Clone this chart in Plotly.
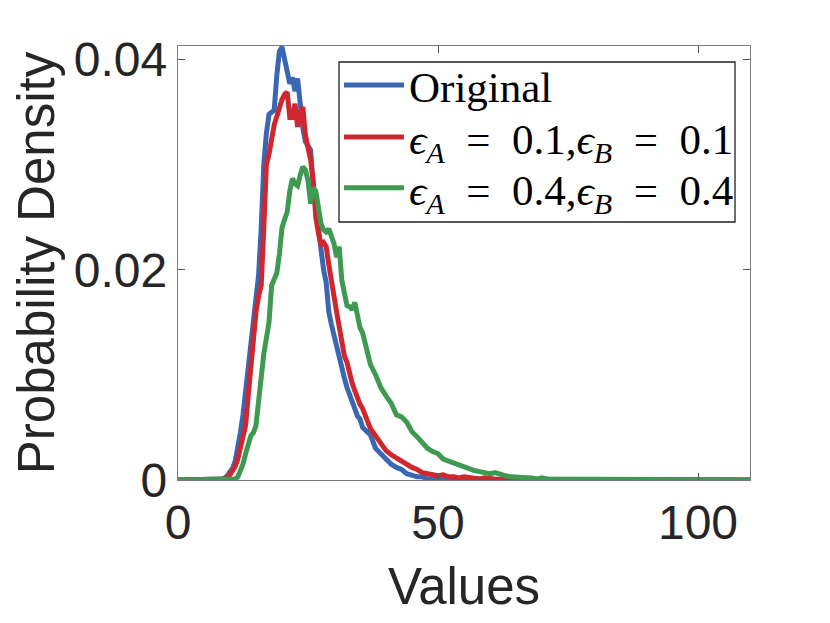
import plotly.graph_objects as go

# x positions of the density estimate (values)
x_vals = [0] + [8 + 0.5 * i for i in range(57)] + list(range(37, 81)) + [110]

# Original
blue = [0,
    0, 0.0001, 0.0002, 0.0004, 0.0008, 0.0011, 0.0018, 0.0030, 0.0045, 0.0062,
    0.0085, 0.0110, 0.0135, 0.0150, 0.0170, 0.0195, 0.0240, 0.0300, 0.0330, 0.0348,
    0.0350, 0.0352, 0.0385, 0.0408, 0.0412, 0.0399, 0.0385, 0.0377, 0.0383, 0.0370,
    0.0382, 0.0358, 0.0335, 0.0322, 0.0318, 0.0314, 0.0279, 0.0258, 0.0238, 0.0218,
    0.0200, 0.0188, 0.0160, 0.0148, 0.0137, 0.0127, 0.0115, 0.0104, 0.0097, 0.0088,
    0.0080, 0.0073, 0.0068, 0.0061, 0.0058, 0.0050, 0.0048,
    0.0043, 0.0030, 0.0025, 0.0021, 0.0015, 0.0012, 0.0010, 0.0006, 0.0004, 0.0003,
    0.0003, 0.0001, 0.0001, 0.0001, 0.0000, 0.0001, 0.0000, 0.0000, 0.0000, 0.0000,
    0.0000, 0.0000, 0.0000, 0.0000, 0.0000, 0.0000, 0.0000, 0.0000, 0.0000, 0.0000,
    0.0000, 0.0000, 0.0000, 0.0000, 0.0000, 0.0000, 0.0000, 0.0000, 0.0000, 0.0000,
    0.0000, 0.0000, 0.0000, 0.0000,
    0]

# eps_A = 0.1, eps_B = 0.1
red = [0,
    0, 0, 0.0001, 0.0003, 0.0005, 0.0009, 0.0013, 0.0020, 0.0030, 0.0042,
    0.0052, 0.0080, 0.0110, 0.0136, 0.0160, 0.0175, 0.0185, 0.0240, 0.0300, 0.0310,
    0.0325, 0.0338, 0.0346, 0.0356, 0.0362, 0.0367, 0.0369, 0.0345, 0.0345, 0.0358,
    0.0336, 0.0350, 0.0355, 0.0328, 0.0315, 0.0305, 0.0285, 0.0250, 0.0235, 0.0224,
    0.0226, 0.0222, 0.0205, 0.0192, 0.0176, 0.0160, 0.0146, 0.0132, 0.0118, 0.0112,
    0.0100, 0.0092, 0.0085, 0.0078, 0.0072, 0.0068, 0.0062,
    0.0049, 0.0042, 0.0034, 0.0028, 0.0024, 0.0021, 0.0017, 0.0014, 0.0012, 0.0010,
    0.0007, 0.0006, 0.0005, 0.0004, 0.0005, 0.0003, 0.0003, 0.0002, 0.0003, 0.0002,
    0.0002, 0.0001, 0.0002, 0.0001, 0.0001, 0.0000, 0.0000, 0.0001, 0.0000, 0.0000,
    0.0000, 0.0000, 0.0000, 0.0000, 0.0000, 0.0000, 0.0000, 0.0000, 0.0000, 0.0000,
    0.0000, 0.0000, 0.0000, 0.0000,
    0]

# eps_A = 0.4, eps_B = 0.4
green = [0,
    0, 0, 0, 0, 0, 0, 0.0001, 0.0003, 0.0008, 0.0015,
    0.0025, 0.0035, 0.0042, 0.0045, 0.0052, 0.0075, 0.0100, 0.0120, 0.0135, 0.0150,
    0.0185, 0.0192, 0.0197, 0.0215, 0.0240, 0.0248, 0.0255, 0.0275, 0.0287, 0.0282,
    0.0280, 0.0290, 0.0298, 0.0295, 0.0285, 0.0263, 0.0278, 0.0275, 0.0258, 0.0244,
    0.0238, 0.0236, 0.0239, 0.0233, 0.0225, 0.0212, 0.0222, 0.0190, 0.0180, 0.0166,
    0.0165, 0.0162, 0.0169, 0.0158, 0.0145, 0.0140, 0.0130,
    0.0110, 0.0100, 0.0088, 0.0080, 0.0073, 0.0062, 0.0060, 0.0055, 0.0046, 0.0041,
    0.0036, 0.0030, 0.0027, 0.0025, 0.0020, 0.0018, 0.0016, 0.0014, 0.0012, 0.0010,
    0.0009, 0.0008, 0.0007, 0.0006, 0.0007, 0.0005, 0.0004, 0.0003, 0.0003, 0.0002,
    0.0002, 0.0002, 0.0001, 0.0002, 0.0001, 0.0001, 0.0001, 0.0001, 0.0000, 0.0001,
    0.0000, 0.0000, 0.0000, 0.0000,
    0]

EQ = "\u2002=\u2002"
series_names = [
    "Original",
    f"<i>ϵ</i><sub><i>A</i></sub>{EQ}0.1,<i>ϵ</i><sub><i>B</i></sub>{EQ}0.1",
    f"<i>ϵ</i><sub><i>A</i></sub>{EQ}0.4,<i>ϵ</i><sub><i>B</i></sub>{EQ}0.4",
]
series_colors = ["#3A67B1", "#D0262D", "#3E9A51"]
legend_ids = ["legend", "legend2", "legend3"]
legend_rows_y = [0.910, 0.790, 0.673]

x_ticks = [0, 50, 100]
x_ticktext = ["0", "50", "100"]
y_ticks = [0, 0.02, 0.04]
y_ticktext = ["0", "0.02", "0.04"]

fig = go.Figure()
for name, ys, col, lg in zip(series_names, [blue, red, green], series_colors, legend_ids):
    fig.add_trace(go.Scatter(x=x_vals, y=ys, mode="lines", name=name, legend=lg,
                             line=dict(color=col, width=5), cliponaxis=False))

axis_common = dict(showline=True, linecolor="#7a7a7a", linewidth=1.3, mirror="ticks",
                   ticks="inside", ticklen=7, tickcolor="#555555", tickwidth=1.2,
                   showgrid=False, zeroline=False,
                   tickfont=dict(family="Liberation Sans, Arial", size=48, color="#262626"),
                   title_font=dict(family="Liberation Sans, Arial", size=51, color="#262626"))

fig.update_xaxes(range=[0, 110], tickvals=x_ticks, ticktext=x_ticktext,
                 title_text="Values", title_standoff=20, **axis_common)
fig.update_yaxes(range=[0, 0.0413], tickvals=y_ticks, ticktext=y_ticktext,
                 title_text="Probability Density", title_standoff=14, **axis_common)

legend_font = dict(family="Liberation Serif, DejaVu Serif, serif", size=43, color="#000000")
legend_layout = {}
for lg, yy in zip(legend_ids, legend_rows_y):
    legend_layout[lg] = dict(x=0.2815, y=yy, xanchor="left", yanchor="middle",
                             bgcolor="rgba(0,0,0,0)", borderwidth=0,
                             font=legend_font, itemwidth=60)

# legend frame
fig.add_shape(type="rect", xref="paper", yref="paper",
              x0=0.2815, x1=0.9738, y0=0.5945, y1=0.9631,
              fillcolor="white", line=dict(color="#222222", width=1.3), layer="above")

fig.update_layout(
    width=830, height=623,
    margin=dict(l=170, r=88, t=38, b=151),
    paper_bgcolor="white", plot_bgcolor="white",
    showlegend=True,
    **legend_layout,
)

fig.write_html("out.html")
